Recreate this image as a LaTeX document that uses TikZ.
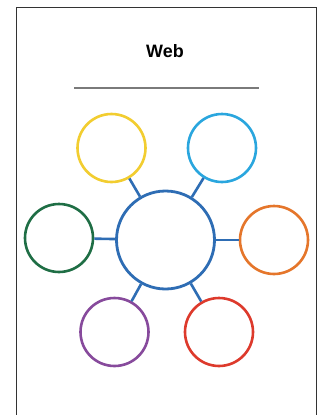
\documentclass[tikz,border=0pt]{standalone}
\usepackage{fontspec}
\setmainfont{Liberation Sans}
\definecolor{frame}{HTML}{333333}
\definecolor{rule}{HTML}{7A7A7A}
\definecolor{cblue}{HTML}{2E6DB4}
\definecolor{cyel}{HTML}{F2CD30}
\definecolor{ccyan}{HTML}{2AA6DE}
\definecolor{cgreen}{HTML}{1F6E45}
\definecolor{corange}{HTML}{E5762B}
\definecolor{cpurple}{HTML}{874A9C}
\definecolor{cred}{HTML}{DD3A2C}
\tikzset{
  bubble/.style={circle, draw=#1, line width=2.6bp, minimum size=68bp, inner sep=0pt},
  hub/.style={circle, draw=cblue, line width=2.8bp, minimum size=98bp, inner sep=0pt},
  spoke/.style={draw=cblue, line width=2.6bp},
}
\begin{document}
\begin{tikzpicture}[x=1bp,y=-1bp]
\useasboundingbox (0,0) rectangle (322,415);
\fill[white] (0,0) rectangle (322,415);
\draw[frame, line width=1.6bp] (16.5,416) -- (16.5,7.5) -- (316.5,7.5) -- (316.5,416);
\node[font=\bfseries\fontsize{18}{20}\selectfont] (title) at (165,51) {Web};
\coordinate (rl) at (74,88);
\coordinate (rr) at (259,88);
\draw[rule, line width=2bp] (rl) -- (rr);
\node[hub] (c) at (165.5,240) {};
\node[bubble=cyel] (y) at (111.5,148) {};
\node[bubble=ccyan] (b) at (222,148) {};
\node[bubble=cgreen] (g) at (59,238) {};
\node[bubble=corange] (o) at (274,240) {};
\node[bubble=cpurple] (p) at (114.5,332) {};
\node[bubble=cred] (r) at (219,332) {};
\foreach \n in {y,b,g,o,p,r} { \draw[spoke] (c) -- (\n); }
\end{tikzpicture}
\end{document}
